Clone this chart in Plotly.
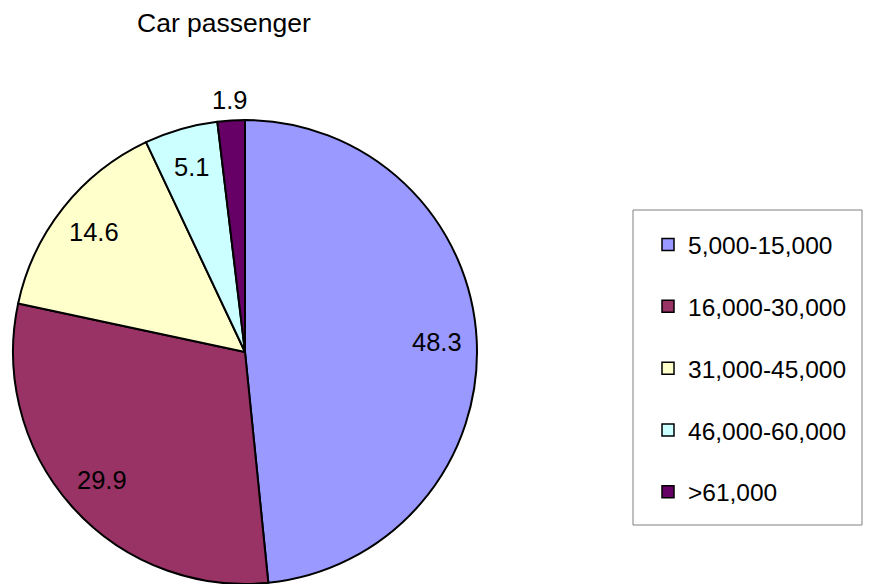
import math
import plotly.graph_objects as go

categories = ["5,000-15,000", "16,000-30,000", "31,000-45,000", "46,000-60,000", ">61,000"]
values = [48.3, 29.9, 14.6, 5.1, 1.9]
colors = ["#9999FF", "#993366", "#FFFFCC", "#CCFFFF", "#660066"]
title_text = "Car passenger"

W, H = 881, 584
FONT = "Liberation Sans, Arial, sans-serif"

# pie placement (paper fractions)
dom_x = [13 / W, 477 / W]
dom_y = [0, 464 / H]

fig = go.Figure()
fig.add_trace(go.Pie(
    labels=categories, values=values, sort=False, direction="clockwise", rotation=0,
    marker=dict(colors=colors, line=dict(color="black", width=2)),
    textinfo="none", hoverinfo="label+value",
    showlegend=False,
    domain=dict(x=dom_x, y=dom_y),
))

# data labels placed along each slice's bisector, computed from the values
cx_px = (dom_x[0] + dom_x[1]) / 2 * W
cy_px = (dom_y[0] + dom_y[1]) / 2 * H
r_px = min((dom_x[1] - dom_x[0]) * W, (dom_y[1] - dom_y[0]) * H) / 2
total = sum(values)
cum = 0.0
for i, v in enumerate(values):
    mid = (cum + v / 2) / total * 2 * math.pi
    cum += v
    frac = 1.09 if v / total < 0.03 else 0.83
    px = cx_px + frac * r_px * math.sin(mid)
    py = cy_px + frac * r_px * math.cos(mid)
    fig.add_annotation(x=px / W, y=py / H, xref="paper", yref="paper",
                       xanchor="center", yanchor="middle",
                       text=f"{v}", showarrow=False,
                       font=dict(family=FONT, size=25.5, color="black"))

# legend entries
for c, col in zip(categories, colors):
    fig.add_trace(go.Scatter(
        x=[None], y=[None], mode="markers", name=c, legendgroup=c,
        marker=dict(symbol="square", size=12, color=col, line=dict(color="black", width=1.5)),
    ))

# legend frame
fig.add_shape(type="rect", xref="paper", yref="paper",
              x0=633 / W, x1=862 / W, y0=1 - 525 / H, y1=1 - 210 / H,
              line=dict(color="#808080", width=1), fillcolor="rgba(0,0,0,0)", layer="above")

fig.update_layout(
    width=W, height=H, margin=dict(l=0, r=0, t=0, b=0),
    paper_bgcolor="white", plot_bgcolor="white",
    xaxis=dict(visible=False), yaxis=dict(visible=False),
    title=dict(text=title_text, x=137 / W, xanchor="left", y=1 - 23 / H, yanchor="middle",
               font=dict(family=FONT, size=26.5, color="black")),
    legend=dict(x=648 / W, y=1 - 222 / H, xanchor="left", yanchor="top",
                borderwidth=0, bgcolor="rgba(0,0,0,0)",
                font=dict(family=FONT, size=24.5, color="black"),
                traceorder="grouped", tracegroupgap=27, itemwidth=30),
    showlegend=True,
)

fig.write_html("out.html")
